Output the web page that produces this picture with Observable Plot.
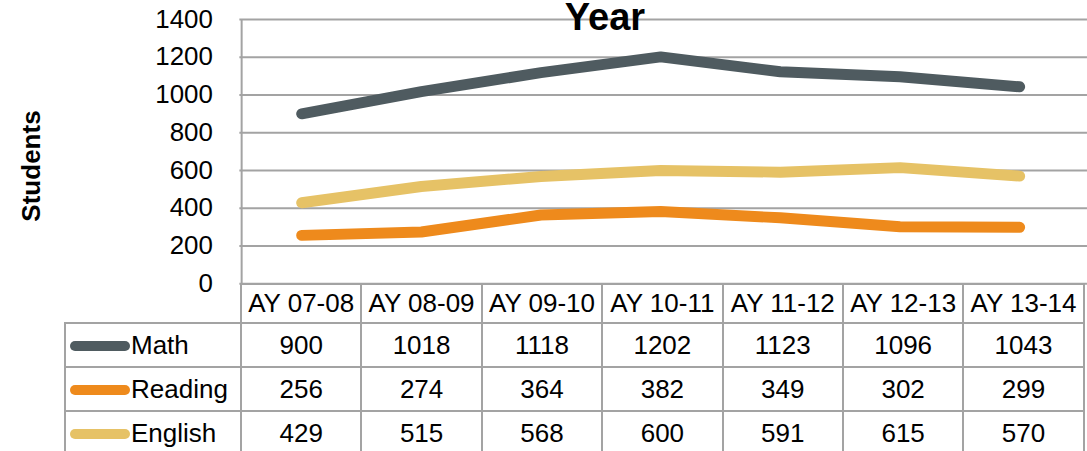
<!DOCTYPE html>
<html>
<head>
<meta charset="utf-8">
<script src="https://cdn.jsdelivr.net/npm/d3@7"></script>
<script src="https://cdn.jsdelivr.net/npm/@observablehq/plot@0.6"></script>
<style>
  body { margin: 0; background: #fff; }
  #wrap { position: relative; width: 1087px; height: 451px; overflow: hidden; background: #fff;
          font-family: "Liberation Sans", Arial, sans-serif; color: #000; }
  #chart { position: absolute; left: 0; top: 0; }
  #title { position: absolute; left: 455px; width: 300px; top: -2px; text-align: center;
           font-weight: bold; font-size: 38px; line-height: 38px; }
  #ylabel { position: absolute; left: -69px; width: 200px; top: 153px; text-align: center;
            font-weight: bold; font-size: 26px; line-height: 26px; transform: rotate(-90deg); }
  #table { position: absolute; left: 64px; top: 283px; border-collapse: collapse; table-layout: fixed;
           font-size: 26px; }
  #table td { border: 2px solid #a3a3a3; padding: 0; text-align: center; white-space: nowrap; overflow: hidden; }
  #table tr.head td { height: 37px; }
  #table tr.row td { height: 42px; }
  #table td.corner { border-top: hidden; border-left: hidden; }
  #table td.lab { text-align: left; padding-left: 4px; }
  .sw { display: inline-block; width: 60px; height: 10px; border-radius: 5px; vertical-align: middle; margin-right: 1px; position: relative; top: -1px; }
</style>
</head>
<body>
<div id="wrap">
  <div id="chart"></div>
  <div id="title">Year</div>
  <div id="ylabel">Students</div>
  <table id="table"></table>
</div>
<script>
const years = ["AY 07-08", "AY 08-09", "AY 09-10", "AY 10-11", "AY 11-12", "AY 12-13", "AY 13-14"];
const subjects = ["Math", "Reading", "English"];
const colors = ["#4f5b60", "#ee8a1c", "#e6c266"];
const mathValues = [900, 1018, 1118, 1202, 1123, 1096, 1043];
const readingValues = [256, 274, 364, 382, 349, 302, 299];
const englishValues = [429, 515, 568, 600, 591, 615, 570];
const yTicks = [0, 200, 400, 600, 800, 1000, 1200, 1400];

const series = [mathValues, readingValues, englishValues];
const data = subjects.flatMap((s, i) => years.map((y, j) => ({subject: s, year: y, value: series[i][j]})));

const chart = Plot.plot({
  width: 1090,
  height: 302,
  marginLeft: 240,
  marginRight: 0,
  marginTop: 19,
  marginBottom: 18,
  style: {fontFamily: "'Liberation Sans', Arial, sans-serif", fontSize: "26px", color: "#000", background: "transparent"},
  x: {type: "point", domain: years, range: [240, 1083], padding: 0.5, axis: null},
  y: {domain: [0, 1400], ticks: yTicks},
  color: {domain: subjects, range: colors},
  marks: [
    Plot.ruleY(yTicks, {stroke: "#a3a3a3", strokeWidth: 2}),
    Plot.ruleX([years[0]], {dx: -60.2, stroke: "#a3a3a3", strokeWidth: 2}),
    Plot.axisY(yTicks, {tickSize: 0, tickPadding: 27, label: null, fill: "#000", tickFormat: d => String(d)}),
    Plot.line(data, {x: "year", y: "value", z: "subject", stroke: "subject", strokeWidth: 11,
                     strokeLinecap: "round", strokeLinejoin: "miter"})
  ]
});
document.getElementById("chart").appendChild(chart);

// data table below the chart
const table = document.getElementById("table");
const colgroup = document.createElement("colgroup");
const c0 = document.createElement("col"); c0.style.width = "176px"; colgroup.appendChild(c0);
years.forEach(() => { const c = document.createElement("col"); c.style.width = "120.4px"; colgroup.appendChild(c); });
table.appendChild(colgroup);
const head = document.createElement("tr"); head.className = "head";
const corner = document.createElement("td"); corner.className = "corner"; head.appendChild(corner);
years.forEach(y => { const td = document.createElement("td"); td.textContent = y; head.appendChild(td); });
table.appendChild(head);
subjects.forEach((s, i) => {
  const tr = document.createElement("tr"); tr.className = "row";
  const lab = document.createElement("td"); lab.className = "lab";
  const sw = document.createElement("span"); sw.className = "sw"; sw.style.background = colors[i];
  lab.appendChild(sw); lab.appendChild(document.createTextNode(s));
  tr.appendChild(lab);
  series[i].forEach(v => { const td = document.createElement("td"); td.textContent = v; tr.appendChild(td); });
  table.appendChild(tr);
});
</script>
</body>
</html>
